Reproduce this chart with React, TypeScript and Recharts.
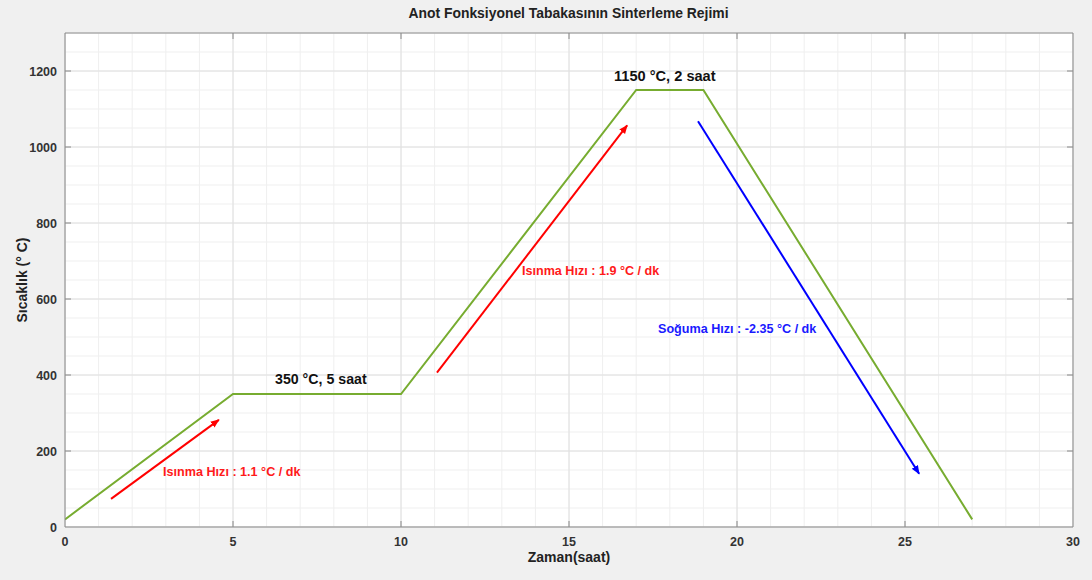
import { CartesianGrid, Line, LineChart, ReferenceDot, ReferenceLine, XAxis, YAxis } from 'recharts'

// sintering profile
const profileTime = [0, 5, 10, 17, 19, 27]
const profileTemp = [20, 350, 350, 1150, 1150, 20]

// arrows (start -> end)
const heat1Time = [1.37, 4.58]
const heat1Temp = [74, 282]
const heat2Time = [11.07, 16.73]
const heat2Temp = [406, 1057]
const coolTime = [18.84, 25.42]
const coolTemp = [1068, 140]

const xTicks = [0, 5, 10, 15, 20, 25, 30]
const yTicks = [0, 200, 400, 600, 800, 1000, 1200]
const xMinor = Array.from({ length: 31 }, (_, i) => i)
const yMinor = Array.from({ length: 27 }, (_, i) => i * 50)

type Note = { x: number; y: number; text: string; color: string; size: number }
const notes: Note[] = [
  { x: 2.92, y: 145, text: 'Isınma Hızı : 1.1 °C / dk', color: '#ff1a1a', size: 12.6 },
  { x: 6.25, y: 390, text: '350 °C, 5 saat', color: '#111', size: 14.2 },
  { x: 13.6, y: 675, text: 'Isınma Hızı : 1.9 °C / dk', color: '#ff1a1a', size: 12.6 },
  { x: 16.34, y: 1187, text: '1150 °C, 2 saat', color: '#111', size: 14.6 },
  { x: 17.65, y: 522, text: 'Soğuma Hızı : -2.35 °C / dk', color: '#1a1aff', size: 12.6 },
]

const toRows = (xs: number[], ys: number[]) => xs.map((t, i) => ({ t, v: ys[i] }))

const profile = toRows(profileTime, profileTemp)
const heat1 = toRows(heat1Time, heat1Temp)
const heat2 = toRows(heat2Time, heat2Temp)
const cool = toRows(coolTime, coolTemp)

const font = 'Arial, "Liberation Sans", Helvetica, sans-serif'
const axisColor = '#8a8a8a'
const labelColor = '#333'

function XTick(props: any) {
  const { x, payload } = props
  if (payload.value % 5 !== 0) return <g />
  const showTop = payload.value !== 0 && payload.value !== 30
  return (
    <g>
      {showTop && <line x1={x} x2={x} y1={527} y2={521} stroke={axisColor} />}
      {showTop && <line x1={x} x2={x} y1={33} y2={39} stroke={axisColor} />}
      <text x={x} y={546} textAnchor='middle' fontSize={12.5} fontWeight='bold' fill={labelColor} fontFamily={font}>
        {payload.value}
      </text>
    </g>
  )
}

function YTick(props: any) {
  const { y, payload } = props
  if (payload.value % 200 !== 0 || payload.value > 1200) return <g />
  const showTick = payload.value !== 0
  return (
    <g>
      {showTick && <line x1={65} x2={71} y1={y} y2={y} stroke={axisColor} />}
      {showTick && <line x1={1073} x2={1067} y1={y} y2={y} stroke={axisColor} />}
      <text x={57} y={y + 4.5} textAnchor='end' fontSize={12.5} fontWeight='bold' fill={labelColor} fontFamily={font}>
        {payload.value}
      </text>
    </g>
  )
}

export default function App() {
  return (
    <div style={{ position: 'absolute', left: 0, top: 0, width: 1092, height: 580, background: '#f0f0f0', fontFamily: font }}>
      <svg width={0} height={0} style={{ position: 'absolute' }}>
        <defs>
          <marker id='arrowRed' viewBox='0 0 10 10' refX='9' refY='5' markerWidth='4.5' markerHeight='4.5' orient='auto'>
            <path d='M0,1 L10,5 L0,9 z' fill='#ff0000' />
          </marker>
          <marker id='arrowBlue' viewBox='0 0 10 10' refX='9' refY='5' markerWidth='4.5' markerHeight='4.5' orient='auto'>
            <path d='M0,1 L10,5 L0,9 z' fill='#0000ff' />
          </marker>
        </defs>
      </svg>
      <div style={{ position: 'absolute', left: 0, top: 5, width: 1092, textAlign: 'center', fontSize: 13.9, fontWeight: 'bold', color: '#222', paddingLeft: 45, boxSizing: 'border-box' }}>
        Anot Fonksiyonel Tabakasının Sinterleme Rejimi
      </div>
      <div style={{ position: 'absolute', left: 65, top: 549, width: 1008, textAlign: 'center', fontSize: 14, fontWeight: 'bold', color: '#222' }}>
        Zaman(saat)
      </div>
      <div
        style={{
          position: 'absolute',
          left: 22,
          top: 280,
          transform: 'translate(-50%, -50%) rotate(-90deg)',
          whiteSpace: 'nowrap',
          fontSize: 14,
          fontWeight: 'bold',
          color: '#222',
        }}
      >
        Sıcaklık (° C)
      </div>
      <LineChart
        width={1092}
        height={580}
        margin={{ top: 33, right: 19, bottom: 23, left: 5 }}
        style={{ position: 'absolute', left: 0, top: 0 }}
      >
        <CartesianGrid fill='#fff' stroke='#efefef' strokeWidth={1} />
        <XAxis
          type='number'
          dataKey='t'
          domain={[0, 30]}
          ticks={xMinor}
          interval={0}
          height={30}
          tick={<XTick />}
          tickLine={false}
          tickSize={0}
          stroke={axisColor}
          allowDataOverflow
        />
        <YAxis
          type='number'
          dataKey='v'
          domain={[0, 1300]}
          ticks={yMinor}
          interval={0}
          width={60}
          tick={<YTick />}
          tickLine={false}
          tickSize={0}
          stroke={axisColor}
          allowDataOverflow
        />
        {xTicks.map((v) => (
          <ReferenceLine key={'x' + v} x={v} stroke='#e0e0e0' />
        ))}
        {yTicks.map((v) => (
          <ReferenceLine key={'y' + v} y={v} stroke='#e0e0e0' />
        ))}
        <ReferenceLine x={30} stroke={axisColor} />
        <ReferenceLine y={1300} stroke={axisColor} />
        <Line data={profile} dataKey='v' stroke='#77ac30' strokeWidth={2} dot={false} isAnimationActive={false} />
        <Line data={heat1} dataKey='v' stroke='#ff0000' strokeWidth={2} dot={false} markerEnd='url(#arrowRed)' isAnimationActive={false} />
        <Line data={heat2} dataKey='v' stroke='#ff0000' strokeWidth={2} dot={false} markerEnd='url(#arrowRed)' isAnimationActive={false} />
        <Line data={cool} dataKey='v' stroke='#0000ff' strokeWidth={2} dot={false} markerEnd='url(#arrowBlue)' isAnimationActive={false} />
        {notes.map((n) => (
          <ReferenceDot
            key={n.text}
            x={n.x}
            y={n.y}
            r={0}
            fill='none'
            stroke='none'
            label={(p: any) => (
              <text
                x={p.viewBox.x}
                y={p.viewBox.y + n.size * 0.36}
                fontSize={n.size}
                fontWeight='bold'
                fill={n.color}
                fontFamily={font}
              >
                {n.text}
              </text>
            )}
          />
        ))}
      </LineChart>
    </div>
  )
}
